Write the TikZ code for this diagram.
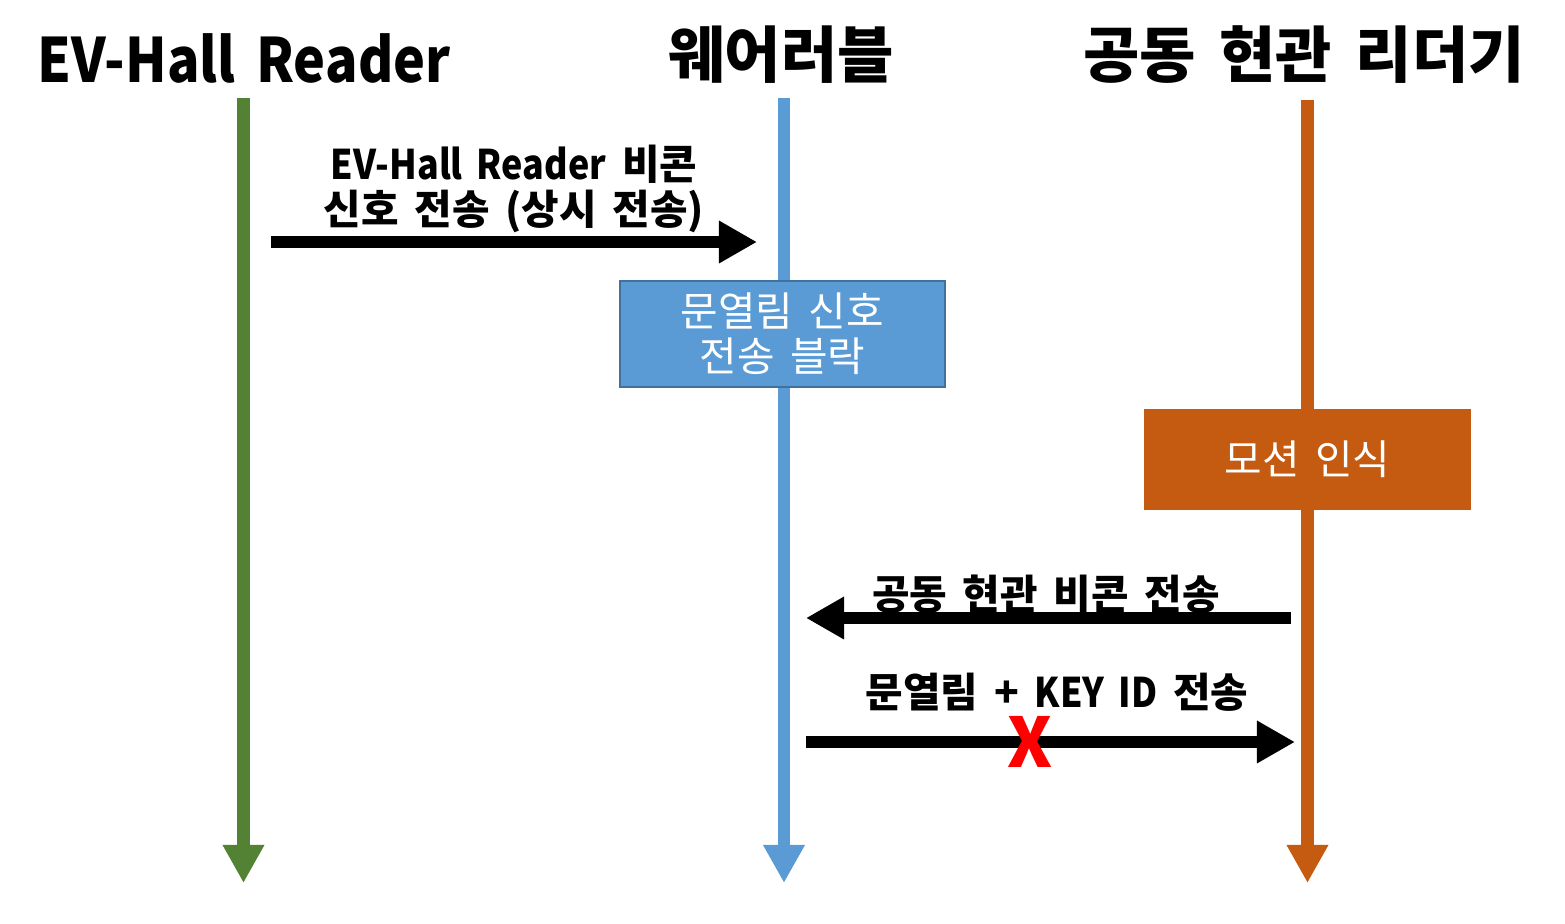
\documentclass[tikz,border=0pt]{standalone}
\usepackage{fontspec}
\setmainfont[WordSpace=1.7]{Noto Sans CJK KR}
\newfontfamily\latinfont[FakeStretch=0.88, WordSpace=1.7]{Noto Sans CJK KR}
\newcommand{\lat}[1]{{\latinfont #1}}
\usepackage{tikz}
\usetikzlibrary{arrows.meta, positioning}

\definecolor{evgreen}{HTML}{548235}
\definecolor{wearblue}{HTML}{5B9BD5}
\definecolor{wearedge}{HTML}{41719C}
\definecolor{readorange}{HTML}{C55A11}

\begin{document}
\begin{tikzpicture}[
    x=0.01cm, y=-0.01cm,
    title/.style={
        font=\fontsize{17.4}{20}\selectfont\bfseries,
        inner sep=0pt
    },
    lifeline/.style={
        line width=0.12cm,
        -{Triangle[length=0.38cm, width=0.39cm]}
    },
    msg/.style={
        line width=0.12cm,
        draw=black,
        -{Triangle[length=0.38cm, width=0.40cm]}
    },
    msglabel/.style={
        font=\fontsize{11.6}{12.6}\selectfont\bfseries,
        align=center,
        inner sep=0pt
    },
    block/.style={
        rectangle,
        minimum width=3.25cm,
        minimum height=1.0cm,
        align=center,
        text=white,
        font=\fontsize{11.6}{12.8}\selectfont
    }
]
    % Page frame
    \path[use as bounding box] (0,0) rectangle (1565,924);

    % Lane titles
    \node[title] (evtitle) at (244,58) {\lat{EV-Hall Reader}};
    \node[title] (weartitle) at (781,55) {웨어러블};
    \node[title] (readtitle) at (1304,55) {공동 현관 리더기};

    % Lifelines
    \coordinate (evtop) at (243.5,98);
    \coordinate (evbot) at (243.5,883);
    \coordinate (weartop) at (784,98);
    \coordinate (wearbot) at (784,883);
    \coordinate (readtop) at (1307.5,100);
    \coordinate (readbot) at (1307.5,883);
    \draw[lifeline, evgreen] (evtop) -- (evbot);
    \draw[lifeline, wearblue] (weartop) -- (wearbot);
    \draw[lifeline, readorange] (readtop) -- (readbot);

    % Blocks on the lifelines
    \node[block, fill=wearblue, draw=wearedge, line width=0.6pt] (block) at (782.5,334) {문열림 신호\\전송 블락};
    \node[block, fill=readorange, minimum width=3.27cm, minimum height=1.01cm] (motion) at (1307.5,459.5) {모션 인식};

    % Messages
    \coordinate (beaconsrc) at (271,242);
    \coordinate (beacondst) at (757,242);
    \draw[msg] (beaconsrc) -- (beacondst);
    \node[msglabel] (beaconlbl) at (514,189) {\lat{EV-Hall Reader} 비콘\\신호 전송 (상시 전송)};

    \coordinate (hallsrc) at (1291,618);
    \coordinate (halldst) at (806,618);
    \draw[msg] (hallsrc) -- (halldst);
    \node[msglabel] (halllbl) at (1046,594) {공동 현관 비콘 전송};

    \coordinate (opensrc) at (806,742);
    \coordinate (opendst) at (1295,742);
    \draw[msg] (opensrc) -- (opendst);
    \node[msglabel] (openlbl) at (1057,692) {문열림 + \lat{KEY ID} 전송};

    % Blocked mark
    \node[font=\fontsize{19.5}{20}\selectfont\bfseries, text=red, inner sep=0pt,
          text height=0.49cm, text depth=0pt] (cross) at (1030,743) {X};

\end{tikzpicture}
\end{document}
